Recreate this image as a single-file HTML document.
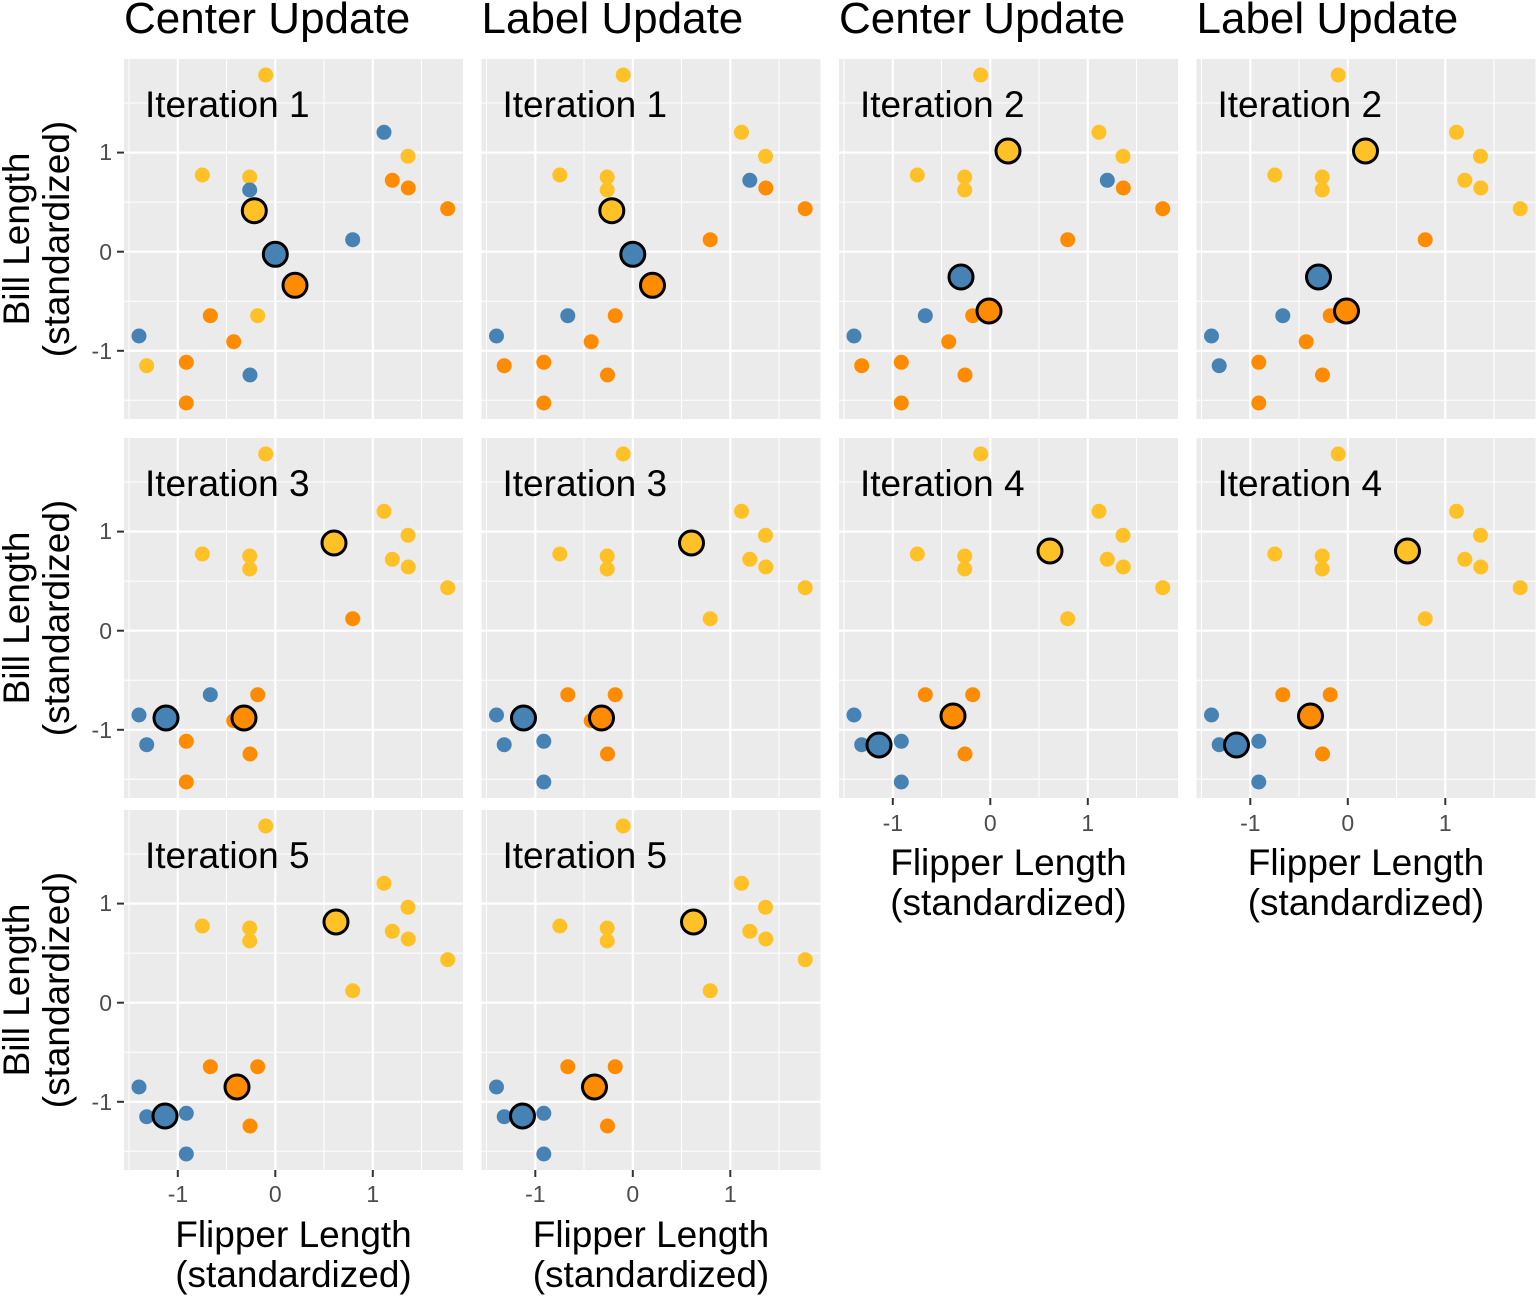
<!DOCTYPE html>
<html><head><meta charset="utf-8"><style>
html,body{margin:0;padding:0;background:#fff;}
svg{display:block;font-family:"Liberation Sans",Arial,sans-serif;}
</style></head><body>
<svg width="1536" height="1296" viewBox="0 0 1536 1296" xmlns="http://www.w3.org/2000/svg">
<defs>
<g id="bg">
<rect x="0" y="0" width="339" height="360" fill="#EBEBEB"/>
<g stroke="#fff" stroke-width="1">
<line x1="5" y1="0" x2="5" y2="360"/><line x1="102.5" y1="0" x2="102.5" y2="360"/><line x1="200" y1="0" x2="200" y2="360"/><line x1="297.5" y1="0" x2="297.5" y2="360"/>
<line x1="0" y1="44" x2="339" y2="44"/><line x1="0" y1="143.1" x2="339" y2="143.1"/><line x1="0" y1="242.2" x2="339" y2="242.2"/><line x1="0" y1="341.3" x2="339" y2="341.3"/>
</g>
<g stroke="#fff" stroke-width="2.2">
<line x1="53.8" y1="0" x2="53.8" y2="360"/><line x1="151.3" y1="0" x2="151.3" y2="360"/><line x1="248.8" y1="0" x2="248.8" y2="360"/>
<line x1="0" y1="93.6" x2="339" y2="93.6"/><line x1="0" y1="192.7" x2="339" y2="192.7"/><line x1="0" y1="291.8" x2="339" y2="291.8"/>
</g>
</g>
<g id="s1">
<circle cx="141.7" cy="16" r="7.5" fill="#FFC125"/><circle cx="260" cy="73.3" r="7.5" fill="#4682B4"/><circle cx="284" cy="97.3" r="7.5" fill="#FFC125"/><circle cx="78.3" cy="116" r="7.5" fill="#FFC125"/><circle cx="125.7" cy="118" r="7.5" fill="#FFC125"/><circle cx="125.7" cy="131" r="7.5" fill="#4682B4"/><circle cx="268.3" cy="121.3" r="7.5" fill="#FF8C00"/><circle cx="284.3" cy="129" r="7.5" fill="#FF8C00"/><circle cx="323.7" cy="149.7" r="7.5" fill="#FF8C00"/><circle cx="228.7" cy="180.7" r="7.5" fill="#4682B4"/><circle cx="86.3" cy="256.7" r="7.5" fill="#FF8C00"/><circle cx="133.7" cy="256.7" r="7.5" fill="#FFC125"/><circle cx="15" cy="277" r="7.5" fill="#4682B4"/><circle cx="109.7" cy="282.7" r="7.5" fill="#FF8C00"/><circle cx="22.7" cy="306.7" r="7.5" fill="#FFC125"/><circle cx="62.3" cy="303.3" r="7.5" fill="#FF8C00"/><circle cx="126" cy="316" r="7.5" fill="#4682B4"/><circle cx="62.3" cy="344" r="7.5" fill="#FF8C00"/>
</g>
<g id="s2">
<circle cx="141.7" cy="16" r="7.5" fill="#FFC125"/><circle cx="260" cy="73.3" r="7.5" fill="#FFC125"/><circle cx="284" cy="97.3" r="7.5" fill="#FFC125"/><circle cx="78.3" cy="116" r="7.5" fill="#FFC125"/><circle cx="125.7" cy="118" r="7.5" fill="#FFC125"/><circle cx="125.7" cy="131" r="7.5" fill="#FFC125"/><circle cx="268.3" cy="121.3" r="7.5" fill="#4682B4"/><circle cx="284.3" cy="129" r="7.5" fill="#FF8C00"/><circle cx="323.7" cy="149.7" r="7.5" fill="#FF8C00"/><circle cx="228.7" cy="180.7" r="7.5" fill="#FF8C00"/><circle cx="86.3" cy="256.7" r="7.5" fill="#4682B4"/><circle cx="133.7" cy="256.7" r="7.5" fill="#FF8C00"/><circle cx="15" cy="277" r="7.5" fill="#4682B4"/><circle cx="109.7" cy="282.7" r="7.5" fill="#FF8C00"/><circle cx="22.7" cy="306.7" r="7.5" fill="#FF8C00"/><circle cx="62.3" cy="303.3" r="7.5" fill="#FF8C00"/><circle cx="126" cy="316" r="7.5" fill="#FF8C00"/><circle cx="62.3" cy="344" r="7.5" fill="#FF8C00"/>
</g>
<g id="s3">
<circle cx="141.7" cy="16" r="7.5" fill="#FFC125"/><circle cx="260" cy="73.3" r="7.5" fill="#FFC125"/><circle cx="284" cy="97.3" r="7.5" fill="#FFC125"/><circle cx="78.3" cy="116" r="7.5" fill="#FFC125"/><circle cx="125.7" cy="118" r="7.5" fill="#FFC125"/><circle cx="125.7" cy="131" r="7.5" fill="#FFC125"/><circle cx="268.3" cy="121.3" r="7.5" fill="#FFC125"/><circle cx="284.3" cy="129" r="7.5" fill="#FFC125"/><circle cx="323.7" cy="149.7" r="7.5" fill="#FFC125"/><circle cx="228.7" cy="180.7" r="7.5" fill="#FF8C00"/><circle cx="86.3" cy="256.7" r="7.5" fill="#4682B4"/><circle cx="133.7" cy="256.7" r="7.5" fill="#FF8C00"/><circle cx="15" cy="277" r="7.5" fill="#4682B4"/><circle cx="109.7" cy="282.7" r="7.5" fill="#FF8C00"/><circle cx="22.7" cy="306.7" r="7.5" fill="#4682B4"/><circle cx="62.3" cy="303.3" r="7.5" fill="#FF8C00"/><circle cx="126" cy="316" r="7.5" fill="#FF8C00"/><circle cx="62.3" cy="344" r="7.5" fill="#FF8C00"/>
</g>
<g id="s4">
<circle cx="141.7" cy="16" r="7.5" fill="#FFC125"/><circle cx="260" cy="73.3" r="7.5" fill="#FFC125"/><circle cx="284" cy="97.3" r="7.5" fill="#FFC125"/><circle cx="78.3" cy="116" r="7.5" fill="#FFC125"/><circle cx="125.7" cy="118" r="7.5" fill="#FFC125"/><circle cx="125.7" cy="131" r="7.5" fill="#FFC125"/><circle cx="268.3" cy="121.3" r="7.5" fill="#FFC125"/><circle cx="284.3" cy="129" r="7.5" fill="#FFC125"/><circle cx="323.7" cy="149.7" r="7.5" fill="#FFC125"/><circle cx="228.7" cy="180.7" r="7.5" fill="#FFC125"/><circle cx="86.3" cy="256.7" r="7.5" fill="#FF8C00"/><circle cx="133.7" cy="256.7" r="7.5" fill="#FF8C00"/><circle cx="15" cy="277" r="7.5" fill="#4682B4"/><circle cx="109.7" cy="282.7" r="7.5" fill="#FF8C00"/><circle cx="22.7" cy="306.7" r="7.5" fill="#4682B4"/><circle cx="62.3" cy="303.3" r="7.5" fill="#4682B4"/><circle cx="126" cy="316" r="7.5" fill="#FF8C00"/><circle cx="62.3" cy="344" r="7.5" fill="#4682B4"/>
</g>
<g id="c1" stroke="#000" stroke-width="3"><circle cx="130.3" cy="151.7" r="12" fill="#FFC125"/><circle cx="151.3" cy="195.3" r="12" fill="#4682B4"/><circle cx="171" cy="226.3" r="12" fill="#FF8C00"/></g>
<g id="c2" stroke="#000" stroke-width="3"><circle cx="169" cy="92" r="12" fill="#FFC125"/><circle cx="122" cy="218" r="12" fill="#4682B4"/><circle cx="150" cy="252" r="12" fill="#FF8C00"/></g>
<g id="c3" stroke="#000" stroke-width="3"><circle cx="210" cy="105" r="12" fill="#FFC125"/><circle cx="42" cy="280" r="12" fill="#4682B4"/><circle cx="120" cy="280" r="12" fill="#FF8C00"/></g>
<g id="c4" stroke="#000" stroke-width="3"><circle cx="211" cy="113" r="12" fill="#FFC125"/><circle cx="40" cy="307" r="12" fill="#4682B4"/><circle cx="114" cy="278" r="12" fill="#FF8C00"/></g>
<g id="c5" stroke="#000" stroke-width="3"><circle cx="212" cy="112" r="12" fill="#FFC125"/><circle cx="41" cy="306" r="12" fill="#4682B4"/><circle cx="113" cy="277" r="12" fill="#FF8C00"/></g>
<g id="ytk" stroke="#333" stroke-width="2"><line x1="-7" y1="93.6" x2="0" y2="93.6"/><line x1="-7" y1="192.7" x2="0" y2="192.7"/><line x1="-7" y1="291.8" x2="0" y2="291.8"/></g>
<g id="xtk" stroke="#333" stroke-width="2"><line x1="53.8" y1="360" x2="53.8" y2="367"/><line x1="151.3" y1="360" x2="151.3" y2="367"/><line x1="248.8" y1="360" x2="248.8" y2="367"/></g>
</defs>

<g font-size="44" fill="#000">
<text x="124" y="33">Center Update</text>
<text x="481.5" y="33">Label Update</text>
<text x="839" y="33">Center Update</text>
<text x="1196.5" y="33">Label Update</text>
</g>

<g font-size="37">
<g transform="translate(124,59)"><use href="#bg"/><use href="#s1"/><use href="#c1"/><use href="#ytk"/><text x="21" y="58">Iteration 1</text></g>
<g transform="translate(481.5,59)"><use href="#bg"/><use href="#s2"/><use href="#c1"/><text x="21" y="58">Iteration 1</text></g>
<g transform="translate(839,59)"><use href="#bg"/><use href="#s2"/><use href="#c2"/><text x="21" y="58">Iteration 2</text></g>
<g transform="translate(1196.5,59)"><use href="#bg"/><use href="#s3"/><use href="#c2"/><text x="21" y="58">Iteration 2</text></g>
<g transform="translate(124,438)"><use href="#bg"/><use href="#s3"/><use href="#c3"/><use href="#ytk"/><text x="21" y="58">Iteration 3</text></g>
<g transform="translate(481.5,438)"><use href="#bg"/><use href="#s4"/><use href="#c3"/><text x="21" y="58">Iteration 3</text></g>
<g transform="translate(839,438)"><use href="#bg"/><use href="#s4"/><use href="#c4"/><use href="#xtk"/><text x="21" y="58">Iteration 4</text></g>
<g transform="translate(1196.5,438)"><use href="#bg"/><use href="#s4"/><use href="#c4"/><use href="#xtk"/><text x="21" y="58">Iteration 4</text></g>
<g transform="translate(124,810)"><use href="#bg"/><use href="#s4"/><use href="#c5"/><use href="#ytk"/><use href="#xtk"/><text x="21" y="58">Iteration 5</text></g>
<g transform="translate(481.5,810)"><use href="#bg"/><use href="#s4"/><use href="#c5"/><use href="#xtk"/><text x="21" y="58">Iteration 5</text></g>
</g>

<g font-size="23" fill="#4D4D4D" text-anchor="end">
<text x="112" y="160">1</text><text x="112" y="260">0</text><text x="112" y="359">-1</text>
<text x="112" y="539">1</text><text x="112" y="639">0</text><text x="112" y="738">-1</text>
<text x="112" y="911">1</text><text x="112" y="1011">0</text><text x="112" y="1110">-1</text>
</g>
<g font-size="23" fill="#4D4D4D" text-anchor="middle">
<text x="178" y="1202">-1</text><text x="275.3" y="1202">0</text><text x="372.8" y="1202">1</text>
<text x="535.3" y="1202">-1</text><text x="632.8" y="1202">0</text><text x="730.3" y="1202">1</text>
<text x="892.8" y="831">-1</text><text x="990.3" y="831">0</text><text x="1087.8" y="831">1</text>
<text x="1250.3" y="831">-1</text><text x="1347.8" y="831">0</text><text x="1445.3" y="831">1</text>
</g>
<g font-size="37" fill="#000" text-anchor="middle">
<text x="293.5" y="1247">Flipper Length</text><text x="293.5" y="1287">(standardized)</text>
<text x="651" y="1247">Flipper Length</text><text x="651" y="1287">(standardized)</text>
<text x="1008.5" y="875">Flipper Length</text><text x="1008.5" y="915">(standardized)</text>
<text x="1366" y="875">Flipper Length</text><text x="1366" y="915">(standardized)</text>
<g transform="translate(29,239) rotate(-90)"><text x="0" y="0">Bill Length</text><text x="0" y="40">(standardized)</text></g>
<g transform="translate(29,618) rotate(-90)"><text x="0" y="0">Bill Length</text><text x="0" y="40">(standardized)</text></g>
<g transform="translate(29,990) rotate(-90)"><text x="0" y="0">Bill Length</text><text x="0" y="40">(standardized)</text></g>
</g>
</svg>
</body></html>
